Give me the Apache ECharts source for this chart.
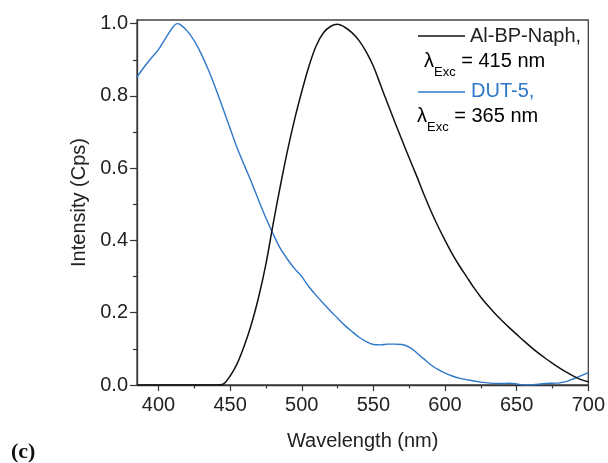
<!DOCTYPE html>
<html>
<head>
<meta charset="utf-8">
<script src="https://cdn.jsdelivr.net/npm/echarts@6/dist/echarts.min.js"></script>
<style>
  html, body { margin: 0; padding: 0; background: #fff; }
  #chart { width: 608px; height: 463px; }
</style>
</head>
<body>
<div id="chart"></div>
<script>
// Al-BP-Naph emission (black)
const naphWl = [385, 390, 400, 410, 420, 430, 440, 445, 450, 455, 460, 465, 470, 475, 480, 485, 490, 495, 500, 505, 510, 515, 520, 525, 530, 535, 540, 545, 550, 555, 560, 565, 570, 575, 580, 585, 590, 595, 600, 605, 610, 615, 620, 625, 630, 635, 640, 645, 650, 655, 660, 665, 670, 675, 680, 685, 690, 695, 700]
const naphInt = [0, 0, 0, 0, 0, 0, 0, 0.002, 0.025, 0.06, 0.11, 0.17, 0.245, 0.335, 0.445, 0.55, 0.648, 0.735, 0.812, 0.882, 0.938, 0.974, 0.992, 0.998, 0.99, 0.975, 0.953, 0.922, 0.882, 0.83, 0.778, 0.727, 0.677, 0.628, 0.58, 0.53, 0.483, 0.44, 0.40, 0.363, 0.33, 0.30, 0.27, 0.243, 0.219, 0.197, 0.177, 0.158, 0.14, 0.122, 0.105, 0.089, 0.074, 0.06, 0.047, 0.035, 0.024, 0.015, 0.009]

// DUT-5 emission (blue)
const dutWl = [385, 390, 395, 400, 405, 410, 413, 415, 420, 425, 430, 435, 440, 445, 450, 455, 460, 465, 470, 475, 480, 485, 490, 495, 500, 505, 510, 515, 520, 525, 530, 535, 540, 545, 550, 555, 560, 565, 570, 575, 580, 585, 590, 595, 600, 605, 610, 615, 620, 625, 630, 635, 640, 645, 650, 655, 660, 665, 670, 675, 680, 685, 690, 695, 700]
const dutInt = [0.852, 0.88, 0.905, 0.928, 0.96, 0.99, 1.0, 0.998, 0.98, 0.952, 0.915, 0.87, 0.82, 0.765, 0.71, 0.655, 0.607, 0.56, 0.51, 0.462, 0.418, 0.378, 0.348, 0.322, 0.30, 0.272, 0.248, 0.226, 0.205, 0.185, 0.165, 0.148, 0.132, 0.12, 0.112, 0.111, 0.113, 0.113, 0.112, 0.105, 0.09, 0.073, 0.056, 0.043, 0.033, 0.025, 0.019, 0.015, 0.011, 0.008, 0.006, 0.004, 0.004, 0.005, 0.003, 0, 0, 0.002, 0.004, 0.005, 0.006, 0.01, 0.018, 0.026, 0.034]

// tick labels
const xMajor = [400, 450, 500, 550, 600, 650, 700]
const xMinor = [425, 475, 525, 575, 625, 675]
const yMajor = [0, 0.2, 0.4, 0.6, 0.8, 1.0]
const yMinor = [0.1, 0.3, 0.5, 0.7, 0.9]

const FONT = 'Liberation Sans, Arial, sans-serif'
const AXIS_COLOR = '#333'
const BLUE = '#2f77c8'

function pairs(xs, ys) {
    return xs.map((x, i) => [x, ys[i]])
}

let chart = echarts.init(document.getElementById('chart'))
let option = {
    animation: false,
    grid: {
        left: 137,
        right: 19,
        top: 20,
        bottom: 78,
        show: true,
        borderColor: '#444',
        borderWidth: 1.3
    },
    xAxis: [
        {
            type: 'value',
            min: 385,
            max: 700,
            position: 'bottom',
            name: 'Wavelength (nm)',
            nameLocation: 'middle',
            nameGap: 46,
            nameTextStyle: { fontFamily: FONT, fontSize: 20, color: '#222' },
            axisLine: { show: true, lineStyle: { color: AXIS_COLOR, width: 1.3 } },
            axisTick: { show: true, inside: false, length: 6, customValues: xMajor, lineStyle: { color: AXIS_COLOR, width: 1.2 } },
            axisLabel: { customValues: xMajor, fontFamily: FONT, fontSize: 20, color: '#222', margin: 10 },
            splitLine: { show: false }
        },
        {
            type: 'value',
            min: 385,
            max: 700,
            position: 'bottom',
            axisLine: { show: false },
            axisTick: { show: true, inside: false, length: 3.5, customValues: xMinor, lineStyle: { color: AXIS_COLOR, width: 1.2 } },
            axisLabel: { show: false },
            splitLine: { show: false }
        }
    ],
    yAxis: [
        {
            type: 'value',
            min: 0,
            max: 1.01,
            position: 'left',
            name: 'Intensity (Cps)',
            nameLocation: 'middle',
            nameGap: 42,
            nameTextStyle: { fontFamily: FONT, fontSize: 20, color: '#222' },
            axisLine: { show: true, lineStyle: { color: AXIS_COLOR, width: 1.3 } },
            axisTick: { show: true, inside: false, length: 7, customValues: yMajor, lineStyle: { color: AXIS_COLOR, width: 1.2 } },
            axisLabel: {
                customValues: yMajor,
                fontFamily: FONT,
                fontSize: 20,
                color: '#222',
                margin: 9,
                formatter: (v) => v.toFixed(1)
            },
            splitLine: { show: false }
        },
        {
            type: 'value',
            min: 0,
            max: 1.01,
            position: 'left',
            axisLine: { show: false },
            axisTick: { show: true, inside: false, length: 4, customValues: yMinor, lineStyle: { color: AXIS_COLOR, width: 1.2 } },
            axisLabel: { show: false },
            splitLine: { show: false }
        }
    ],
    series: [
        {
            name: 'Al-BP-Naph',
            type: 'line',
            data: pairs(naphWl, naphInt),
            showSymbol: false,
            smooth: 0.3,
            lineStyle: { color: '#111', width: 1.5 },
            z: 3
        },
        {
            name: 'DUT-5',
            type: 'line',
            data: pairs(dutWl, dutInt),
            showSymbol: false,
            smooth: 0.3,
            lineStyle: { color: BLUE, width: 1.4 },
            z: 2
        }
    ],
    graphic: [
        { type: 'line', shape: { x1: 418, y1: 36, x2: 465, y2: 36 }, style: { stroke: '#111', lineWidth: 1.4 } },
        { type: 'text', x: 470, y: 36, style: { text: 'Al-BP-Naph,', font: '20px ' + FONT, fill: '#222', verticalAlign: 'middle' } },
        {
            type: 'text', x: 424, y: 51,
            style: {
                text: '{m|λ}{s|Exc}{m| = 415 nm}',
                verticalAlign: 'top',
                rich: {
                    m: { fontFamily: FONT, fontSize: 20, lineHeight: 24, color: '#222', verticalAlign: 'top' },
                    s: { fontFamily: FONT, fontSize: 13, lineHeight: 14, color: '#3b1f2b', verticalAlign: 'top', padding: [15, 0, 0, 0] }
                }
            }
        },
        { type: 'line', shape: { x1: 418, y1: 92, x2: 465, y2: 92 }, style: { stroke: BLUE, lineWidth: 1.4 } },
        { type: 'text', x: 471, y: 91, style: { text: 'DUT-5,', font: '20px ' + FONT, fill: BLUE, verticalAlign: 'middle' } },
        {
            type: 'text', x: 417, y: 106,
            style: {
                text: '{m|λ}{s|Exc}{m| = 365 nm}',
                verticalAlign: 'top',
                rich: {
                    m: { fontFamily: FONT, fontSize: 20, lineHeight: 24, color: '#222', verticalAlign: 'top' },
                    s: { fontFamily: FONT, fontSize: 13, lineHeight: 14, color: '#3b1f2b', verticalAlign: 'top', padding: [15, 0, 0, 0] }
                }
            }
        },
        { type: 'text', x: 11, y: 452, style: { text: '(c)', font: 'bold 22px Liberation Serif, serif', fill: '#111', verticalAlign: 'middle' } }
    ]
}
chart.setOption(option)
window.addEventListener('resize', () => {
    chart.resize()
})
</script>
</body>
</html>
